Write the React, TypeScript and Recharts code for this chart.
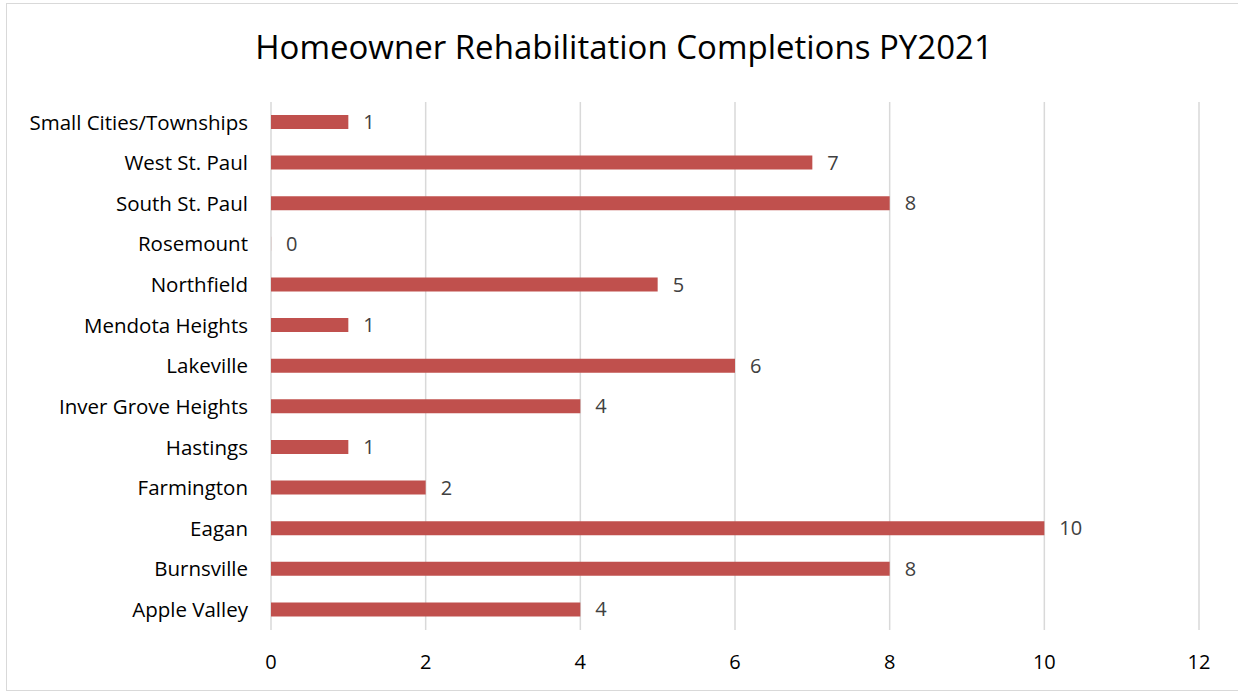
import { Bar, BarChart, CartesianGrid, LabelList, XAxis, YAxis } from 'recharts';

const cities = [
  'Small Cities/Townships',
  'West St. Paul',
  'South St. Paul',
  'Rosemount',
  'Northfield',
  'Mendota Heights',
  'Lakeville',
  'Inver Grove Heights',
  'Hastings',
  'Farmington',
  'Eagan',
  'Burnsville',
  'Apple Valley',
];
const completions = [1, 7, 8, 0, 5, 1, 6, 4, 1, 2, 10, 8, 4];
const xTicks = [0, 2, 4, 6, 8, 10, 12];

const data = cities.map((city, i) => ({ city, value: completions[i] }));

const FONT = '"Open Sans", Lato, sans-serif';

export default function App() {
  return (
    <div style={{ position: 'absolute', left: 0, top: 0, width: 1238, height: 692, background: '#fff', overflow: 'hidden' }}>
      <div
        style={{
          position: 'absolute',
          left: 6,
          top: 3,
          width: 1260,
          height: 686,
          border: '1.5px solid #d9d9d9',
        }}
      />
      <div
        style={{
          position: 'absolute',
          left: 0,
          top: 24,
          width: 1248,
          textAlign: 'center',
          fontFamily: FONT,
          fontSize: 33,
          color: '#000',
        }}
      >
        Homeowner Rehabilitation Completions PY2021
      </div>
      <div style={{ position: 'absolute', left: 0, top: 0 }}>
        <BarChart
          width={1238}
          height={692}
          data={data}
          layout="vertical"
          margin={{ top: 102, right: 39, bottom: 22, left: 11 }}
        >
          <CartesianGrid horizontal={false} stroke="#d9d9d9" strokeWidth={1.5} />
          <XAxis
            type="number"
            domain={[0, 12]}
            ticks={xTicks}
            height={40}
            axisLine={false}
            tickLine={false}
            tickSize={0}
            tickMargin={25}
            tick={{ fill: '#000', fontSize: 20, fontFamily: FONT }}
          />
          <YAxis
            type="category"
            dataKey="city"
            width={260}
            axisLine={false}
            tickLine={false}
            tickSize={0}
            tickMargin={23}
            interval={0}
            tick={{ fill: '#000', fontSize: 20.5, fontFamily: FONT }}
          />
          <Bar dataKey="value" fill="#c0504d" barSize={14} minPointSize={0.1} isAnimationActive={false}>
            <LabelList
              dataKey="value"
              position="right"
              offset={15}
              fill="#404040"
              fontSize={20}
              fontFamily={FONT}
            />
          </Bar>
        </BarChart>
      </div>
    </div>
  );
}
